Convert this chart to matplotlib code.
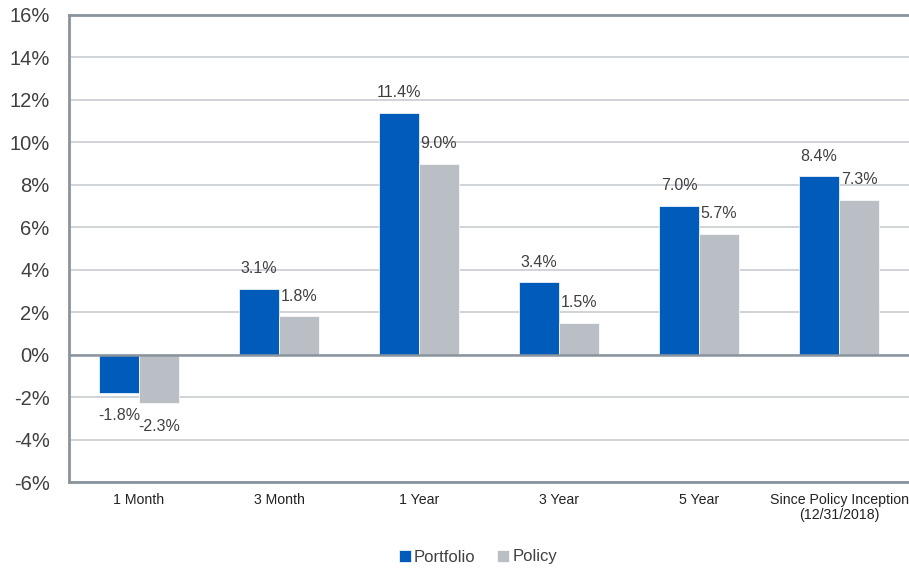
import numpy as np
import matplotlib
matplotlib.use("Agg")
import matplotlib.pyplot as plt
from matplotlib.ticker import FuncFormatter

# data
categories = ["1 Month", "3 Month", "1 Year", "3 Year", "5 Year",
              "Since Policy Inception\n(12/31/2018)"]
portfolio = [-1.8, 3.1, 11.4, 3.4, 7.0, 8.4]
policy = [-2.3, 1.8, 9.0, 1.5, 5.7, 7.3]
yticks = list(range(-6, 17, 2))

blue = "#005BBB"
grey = "#B9BFC5"
text_c = "#404040"

plt.rcParams["font.family"] = ["Liberation Sans", "DejaVu Sans"]

fig = plt.figure(figsize=(9.09, 5.68), dpi=100)
ax = fig.add_axes([69 / 909, 86 / 568, 840 / 909, 467 / 568])

x = np.arange(len(categories))
w = 0.286
b1 = ax.bar(x - w / 2, portfolio, w, color=blue, edgecolor="white", linewidth=0.5, label="Portfolio", zorder=3)
b2 = ax.bar(x + w / 2, policy, w, color=grey, edgecolor="white", linewidth=0.5, label="Policy", zorder=3)

# value labels (offset in points, ~20px from bar end)
for bars, vals in ((b1, portfolio), (b2, policy)):
    for r, v in zip(bars, vals):
        cx = r.get_x() + r.get_width() / 2
        off = 14.5 if v >= 0 else -16.5
        ax.annotate(f"{v:.1f}%", (cx, v), xytext=(0, off), textcoords="offset points",
                    ha="center", va="center", fontsize=11.5, color=text_c)

ax.set_xlim(-0.5, len(categories) - 0.5)
ax.set_ylim(-6, 16)
ax.set_yticks(yticks)
ax.yaxis.set_major_formatter(FuncFormatter(lambda v, p: f"{v:.0f}%"))
ax.tick_params(axis="y", length=0, pad=14, labelsize=14.5, labelcolor=text_c)
ax.set_xticks(x)
ax.set_xticklabels(categories, fontsize=10.2, color="#222222", linespacing=1.05)
ax.tick_params(axis="x", length=0, pad=8)
# keep the long last label inside the figure
ax.get_xticklabels()[-1].set_x(len(categories) - 1 - 0.02)

ax.grid(axis="y", color="#C8CDD2", linewidth=1.2, zorder=0)
ax.axhline(0, color="#8A949E", linewidth=1.8, zorder=4)
ax.spines["right"].set_visible(False)
for s in ("left", "bottom", "top"):
    ax.spines[s].set_color("#8A949E")
    ax.spines[s].set_linewidth(2)

fig.legend(loc="center", bbox_to_anchor=(478 / 909, 11 / 568), ncol=2, frameon=False,
           fontsize=12, handlelength=0.7, handleheight=0.7, handletextpad=0.2,
           columnspacing=1.3, labelcolor=text_c)

fig.savefig("out.png", dpi=100)
